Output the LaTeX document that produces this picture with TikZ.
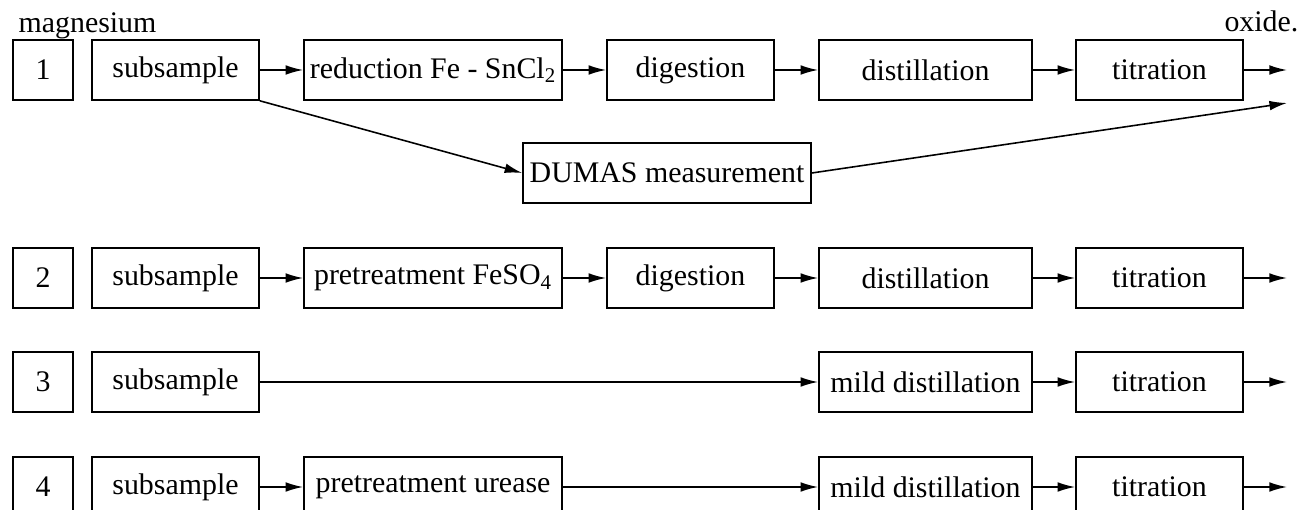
\documentclass[tikz,border=0pt]{standalone}
\usepackage{fontspec}
\setmainfont{Liberation Serif}
\usetikzlibrary{arrows.meta}

\begin{document}
\begin{tikzpicture}[line width=0.9pt, >={Latex[length=10pt,width=5.5pt]},
	every node/.style={font=\fontsize{17}{20}\selectfont},
	box/.style={rectangle, draw, inner sep=0pt, minimum height=1.2cm},
	numbox/.style={box, minimum width=1.2cm},
	smallbox/.style={box, minimum width=3.34cm},
	widebox/.style={box, minimum width=5.16cm},
	distbox/.style={box, minimum width=4.26cm}]
\useasboundingbox (0,0) rectangle (26.28,-10.2);

\node[anchor=base west] (mg) at (0.24,-0.66) {magnesium};
\node[anchor=base east] (ox) at (26.1,-0.64) {oxide.};

% row 1
\node[numbox] (n1) at (0.86,-1.4) {1};
\node[smallbox] (s1) at (3.51,-1.4) {subsample};
\node[widebox] (r1) at (8.66,-1.4) {reduction Fe - SnCl\textsubscript{2}};
\node[smallbox] (d1) at (13.81,-1.4) {digestion};
\node[distbox] (di1) at (18.51,-1.4) {distillation};
\node[smallbox] (t1) at (23.19,-1.4) {titration};
\node[box, minimum width=5.76cm] (dumas) at (13.34,-3.46) {DUMAS measurement};
\coordinate (o1) at (25.74,-1.4);
\coordinate (o1b) at (25.74,-2.06);

\draw[->] (s1) -- (r1);
\draw[->] (r1) -- (d1);
\draw[->] (d1) -- (di1);
\draw[->] (di1) -- (t1);
\draw[->] (t1) -- (o1);
\draw[->] (s1.south east) -- (dumas.west);
\draw[->] (dumas.east) -- (o1b);

% row 2
\node[numbox] (n2) at (0.86,-5.56) {2};
\node[smallbox] (s2) at (3.51,-5.56) {subsample};
\node[widebox] (p2) at (8.66,-5.56) {pretreatment FeSO\textsubscript{4}};
\node[smallbox] (d2) at (13.81,-5.56) {digestion};
\node[distbox] (di2) at (18.51,-5.56) {distillation};
\node[smallbox] (t2) at (23.19,-5.56) {titration};
\coordinate (o2) at (25.74,-5.56);

\draw[->] (s2) -- (p2);
\draw[->] (p2) -- (d2);
\draw[->] (d2) -- (di2);
\draw[->] (di2) -- (t2);
\draw[->] (t2) -- (o2);

% row 3
\node[numbox] (n3) at (0.86,-7.64) {3};
\node[smallbox] (s3) at (3.51,-7.64) {subsample};
\node[distbox] (m3) at (18.51,-7.64) {mild distillation};
\node[smallbox] (t3) at (23.19,-7.64) {titration};
\coordinate (o3) at (25.74,-7.64);

\draw[->] (s3) -- (m3);
\draw[->] (m3) -- (t3);
\draw[->] (t3) -- (o3);

% row 4
\node[numbox] (n4) at (0.86,-9.74) {4};
\node[smallbox] (s4) at (3.51,-9.74) {subsample};
\node[widebox] (u4) at (8.66,-9.74) {pretreatment urease};
\node[distbox] (m4) at (18.51,-9.74) {mild distillation};
\node[smallbox] (t4) at (23.19,-9.74) {titration};
\coordinate (o4) at (25.74,-9.74);

\draw[->] (s4) -- (u4);
\draw[->] (u4) -- (m4);
\draw[->] (m4) -- (t4);
\draw[->] (t4) -- (o4);

\end{tikzpicture}
\end{document}
